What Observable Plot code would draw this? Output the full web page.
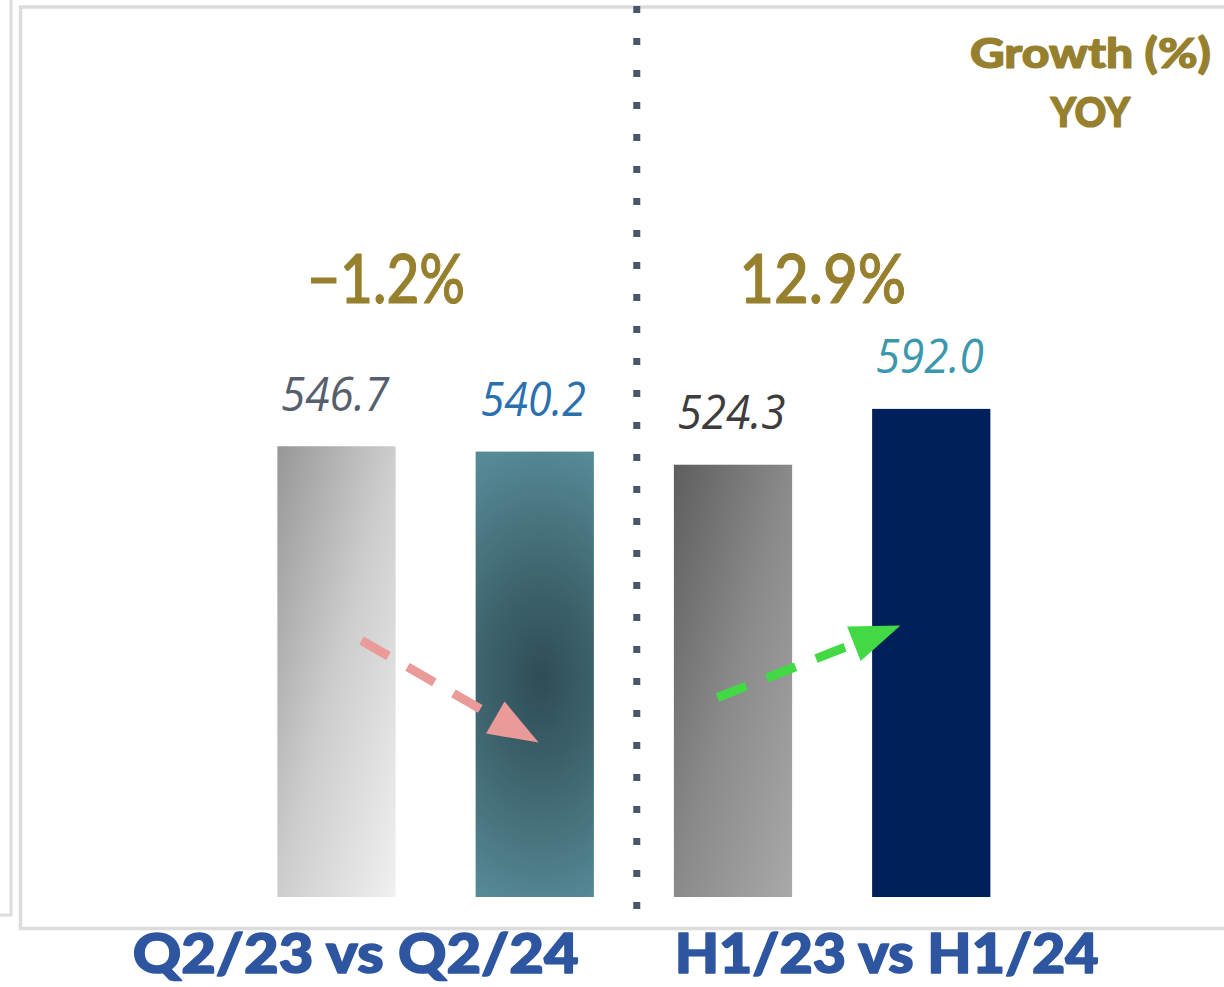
<!DOCTYPE html>
<html>
<head>
<meta charset="utf-8">
<script src="https://cdn.jsdelivr.net/npm/d3@7"></script>
<script src="https://cdn.jsdelivr.net/npm/@observablehq/plot@0.6"></script>
<style>
  html, body { margin: 0; padding: 0; background: #ffffff; }
  #chart { width: 1224px; height: 987px; }
</style>
</head>
<body>
<div id="chart"></div>
<script>
// ---------- data ----------
const periods      = ["Q2/23", "Q2/24", "H1/23", "H1/24"];
const values       = [546.7, 540.2, 524.3, 592.0];
const barFills     = ["url(#gQ223)", "url(#gQ224)", "url(#gH123)", "#00205b"];
const labelColors  = ["#56606c", "#2a6fae", "#3d3d3d", "#3a98ae"];

const groups       = ["Q2/23 vs Q2/24", "H1/23 vs H1/24"];
const growth       = ["−1.2%", "12.9%"];
const growthTitle  = "Growth (%)\nYOY";

// annotation arrows (bar index units, value units)
const arrowFromX   = [0.624, 2.419];
const arrowFromY   = [311.7, 242.6];
const arrowToX     = [1.517, 3.342];
const arrowToY     = [188.0, 330.0];
const arrowColors  = ["#e99a99", "#42d944"];

// ---------- layout ----------
const W = 1224, H = 987;
const STEP = 198.25;
const ML = 237.375, MR = W - (ML + 4 * STEP);
const MT = 0, MB = 90;
const YMAX = (H - MB - MT) / 0.8245;

const bars = periods.map((p, i) => ({i, period: p, value: values[i], fill: barFills[i], color: labelColors[i]}));

// pixel helpers mirroring the plot scales (used only to shape the arrow heads)
const sx = d3.scaleLinear([0, 4], [ML, W - MR]);
const sy = d3.scaleLinear([0, YMAX], [H - MB, MT]);

const arrowMarks = [];
arrowFromX.forEach((_, k) => {
  const x0 = sx(arrowFromX[k]), y0 = sy(arrowFromY[k]);
  const x1 = sx(arrowToX[k]),   y1 = sy(arrowToY[k]);
  const len = Math.hypot(x1 - x0, y1 - y0);
  const ux = (x1 - x0) / len, uy = (y1 - y0) / len;
  const headLen = 50, headHalf = 18.5, shaftBack = 44;
  const bx = x1 - ux * headLen, by = y1 - uy * headLen;
  const tri = [
    [x1, y1],
    [bx - uy * headHalf, by + ux * headHalf],
    [bx + uy * headHalf, by - ux * headHalf]
  ].map(([a, b]) => ({x: sx.invert(a), y: sy.invert(b)}));
  const shaft = [{
    x1: arrowFromX[k], y1: arrowFromY[k],
    x2: sx.invert(x1 - ux * shaftBack), y2: sy.invert(y1 - uy * shaftBack)
  }];
  arrowMarks.push(
    Plot.link(shaft, {x1: "x1", y1: "y1", x2: "x2", y2: "y2",
      stroke: arrowColors[k], strokeWidth: 9, strokeDasharray: "31,22", strokeLinecap: "butt"}),
    Plot.line(tri, {x: "x", y: "y", fill: arrowColors[k], stroke: "none"})
  );
});

const gold = "#96802e";
const blue = "#2d55a0";

const plot = Plot.plot({
  width: W,
  height: H,
  marginLeft: ML,
  marginRight: MR,
  marginTop: MT,
  marginBottom: MB,
  x: {domain: [0, 4], axis: null},
  y: {domain: [0, YMAX], axis: null},
  color: {type: "identity"},
  style: {background: "#ffffff", overflow: "visible"},
  marks: [
    // outer panel border
    Plot.frame({stroke: "#dcdcdc", strokeWidth: 3.5,
      insetLeft: -(ML - 20), insetTop: 6.5, insetRight: -(MR + 10), insetBottom: -31}),
    // neighbouring panel edge on the left
    Plot.frame({stroke: "#dcdcdc", strokeWidth: 3,
      insetLeft: -(ML + 10), insetTop: -10, insetRight: (W - MR) - 10.5, insetBottom: -17.5}),
    // bars
    Plot.rectY(bars, {x1: d => d.i, x2: d => d.i + 1, y: "value", fill: "fill", insetLeft: 40, insetRight: 40}),
    // dotted separator between the two comparisons
    Plot.ruleX([2], {dx: 2.4, stroke: "#48566c", strokeWidth: 7, strokeDasharray: "7,25",
      insetTop: 6, insetBottom: -12}),
    // value labels
    Plot.text(bars, {x: d => d.i + 0.5, y: "value", text: d => d.value.toFixed(1), fill: "color",
      dx: -2, dy: -36, lineAnchor: "bottom", fontSize: 48, fontStyle: "italic",
      fontFamily: "'Open Sans', sans-serif"}),
    ...arrowMarks,
    // growth figures
    Plot.text([growth[0]], {x: 1, frameAnchor: "top", text: d => d, fill: gold, stroke: gold, strokeWidth: 1.1,
      dx: -50, dy: 302, lineAnchor: "bottom", fontSize: 68, fontWeight: 500, fontFamily: "Lato, sans-serif"}),
    Plot.text([growth[1]], {x: 3, frameAnchor: "top", text: d => d, fill: gold, stroke: gold, strokeWidth: 1.1,
      dx: -10, dy: 302, lineAnchor: "bottom", fontSize: 68, fontWeight: 500, fontFamily: "Lato, sans-serif"}),
    // growth title
    Plot.text([growthTitle], {frameAnchor: "top-right", text: d => d, fill: gold, stroke: gold,
      strokeWidth: 1.2, dx: 59.5, dy: 26,
      textAnchor: "middle", lineAnchor: "top", lineHeight: 1.44, fontSize: 41, fontWeight: 900,
      fontFamily: "Lato, sans-serif"}),
    // comparison labels
    Plot.text([groups[0]], {x: 1, frameAnchor: "bottom", text: d => d, fill: blue, stroke: blue,
      strokeWidth: 1.6, dx: -80.5, dy: 75,
      lineAnchor: "bottom", fontSize: 56, fontWeight: 900, fontFamily: "Lato, sans-serif"}),
    Plot.text([groups[1]], {x: 3, frameAnchor: "bottom", text: d => d, fill: blue, stroke: blue,
      strokeWidth: 1.6, dx: 54, dy: 75,
      lineAnchor: "bottom", fontSize: 56, fontWeight: 900, fontFamily: "Lato, sans-serif"})
  ]
});

// gradient definitions for the bars
const svg = d3.select(plot.tagName.toLowerCase() === "svg" ? plot : plot.querySelector("svg"));
const defs = svg.insert("defs", ":first-child");
const g1 = defs.append("linearGradient").attr("id", "gQ223")
  .attr("x1", 0).attr("y1", 0).attr("x2", 1).attr("y2", 1);
g1.append("stop").attr("offset", 0).attr("stop-color", "#979797");
g1.append("stop").attr("offset", 0.5).attr("stop-color", "#cdcdcd");
g1.append("stop").attr("offset", 1).attr("stop-color", "#f0f0f0");
const g3 = defs.append("linearGradient").attr("id", "gH123")
  .attr("x1", 0).attr("y1", 0).attr("x2", 1).attr("y2", 1);
g3.append("stop").attr("offset", 0).attr("stop-color", "#5e5e5e");
g3.append("stop").attr("offset", 0.5).attr("stop-color", "#8a8a8a");
g3.append("stop").attr("offset", 1).attr("stop-color", "#a9a9a9");
const g2 = defs.append("radialGradient").attr("id", "gQ224")
  .attr("cx", 0.55).attr("cy", 0.51).attr("r", 0.5).attr("fx", 0.55).attr("fy", 0.51)
  .attr("gradientTransform", "translate(0.55,0.51) scale(2.4,1.05) translate(-0.55,-0.51)");
g2.append("stop").attr("offset", 0).attr("stop-color", "#2e4d56");
g2.append("stop").attr("offset", 0.4).attr("stop-color", "#3d626c");
g2.append("stop").attr("offset", 0.75).attr("stop-color", "#4b7884");
g2.append("stop").attr("offset", 1).attr("stop-color", "#558996");

// fit text widths to the reference
const widths = {"546.7": 108, "540.2": 105, "524.3": 108, "592.0": 108,
  "−1.2%": 158, "12.9%": 167, "Q2/23 vs Q2/24": 446, "H1/23 vs H1/24": 424,
  "Growth (%)": 241, "YOY": 80};
svg.selectAll("text, tspan").each(function() {
  if (this.tagName === "text" && this.querySelector("tspan")) return;
  const t = this.textContent;
  if (widths[t]) d3.select(this).attr("textLength", widths[t]).attr("lengthAdjust", "spacingAndGlyphs");
});

document.getElementById("chart").appendChild(plot);
</script>
</body>
</html>
